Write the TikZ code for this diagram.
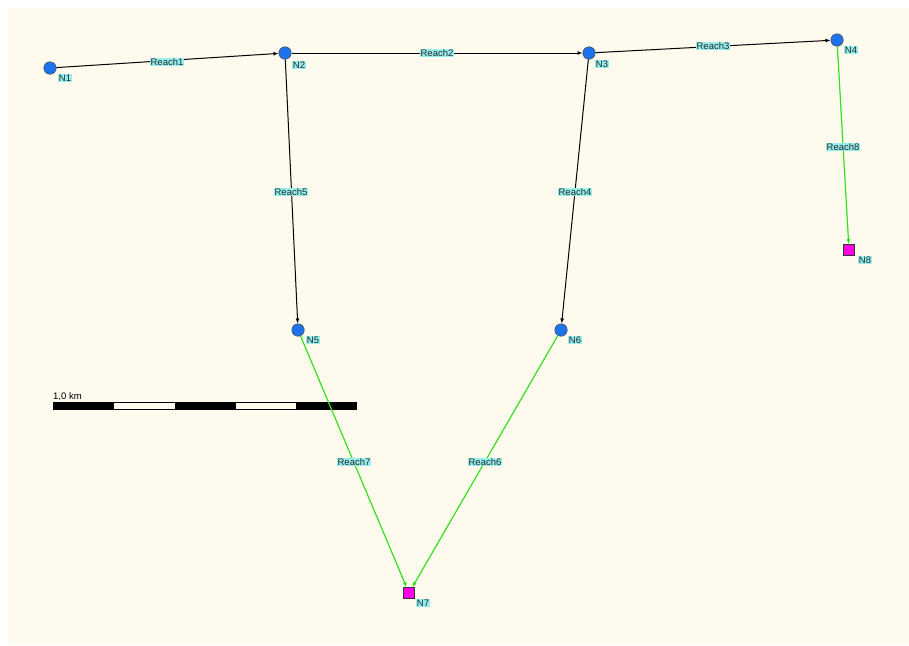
\documentclass[tikz,border=0pt]{standalone}
\usepackage{fontspec}
\setmainfont{Liberation Sans}
\usetikzlibrary{arrows.meta}
\definecolor{bgcream}{RGB}{255,250,238}
\definecolor{lblcyan}{RGB}{150,240,240}
\definecolor{nodeblue}{RGB}{30,115,235}
\definecolor{sinkmag}{RGB}{255,0,230}
\definecolor{reachgreen}{RGB}{50,225,30}
\tikzset{
  junction/.style={circle,fill=nodeblue,draw=black!70,line width=0.5pt,minimum size=12.5pt,inner sep=0pt},
  sink/.style={rectangle,fill=sinkmag,draw=black!80,line width=0.6pt,minimum size=11pt,inner sep=0pt},
  lbl/.style={fill=lblcyan,inner sep=1pt,font=\fontsize{9.5}{10}\selectfont,text=black!85},
  reach/.style={draw=black,line width=1pt,-{Latex[length=5pt,width=4pt]}},
  greach/.style={draw=reachgreen,line width=1.2pt,-{Latex[length=5pt,width=4pt]}},
}
\begin{document}
\begin{tikzpicture}[x=1pt,y=-1pt]
\useasboundingbox (0,0) rectangle (909,645);
\fill[white] (0,0) rectangle (909,645);
\fill[bgcream] (8,8) rectangle (909,645);
% scale bar
\node[anchor=south west,inner sep=0pt,font=\fontsize{9.5}{10}\selectfont] (sclbl) at (53,401) {1,0 km};
\draw[black,line width=0.6pt] (53,402.5) rectangle (356,409.5);
\fill[black] (53,402.5) rectangle (114,409.5);
\fill[black] (175,402.5) rectangle (236,409.5);
\fill[black] (296,402.5) rectangle (356,409.5);
% nodes
\node[junction] (N1) at (50,68) {};
\node[junction] (N2) at (285,53) {};
\node[junction] (N3) at (589,53) {};
\node[junction] (N4) at (837,40) {};
\node[junction] (N5) at (298,330) {};
\node[junction] (N6) at (561,330) {};
\node[sink] (N7) at (409,593) {};
\node[sink] (N8) at (849,250) {};
% reaches
\draw[reach] (N1) -- (N2);
\draw[reach] (N2) -- (N3);
\draw[reach] (N3) -- (N4);
\draw[reach] (N2) -- (N5);
\draw[reach] (N3) -- (N6);
\draw[greach] (N4) -- (N8);
\draw[greach] (N5) -- (N7);
\draw[greach] (N6) -- (N7);
% reach labels
\node[lbl] (r1) at (167,62) {Reach1};
\node[lbl] (r2) at (437,53) {Reach2};
\node[lbl] (r3) at (713,46) {Reach3};
\node[lbl] (r4) at (575,192) {Reach4};
\node[lbl] (r5) at (291,192) {Reach5};
\node[lbl] (r6) at (485,462) {Reach6};
\node[lbl] (r7) at (354,462) {Reach7};
\node[lbl] (r8) at (843,147) {Reach8};
% node labels
\node[lbl] (l1) at (65,78) {N1};
\node[lbl] (l2) at (299,65) {N2};
\node[lbl] (l3) at (602,64) {N3};
\node[lbl] (l4) at (851,50) {N4};
\node[lbl] (l5) at (313,340) {N5};
\node[lbl] (l6) at (575,340) {N6};
\node[lbl] (l7) at (423,603) {N7};
\node[lbl] (l8) at (865,260) {N8};
\end{tikzpicture}
\end{document}
